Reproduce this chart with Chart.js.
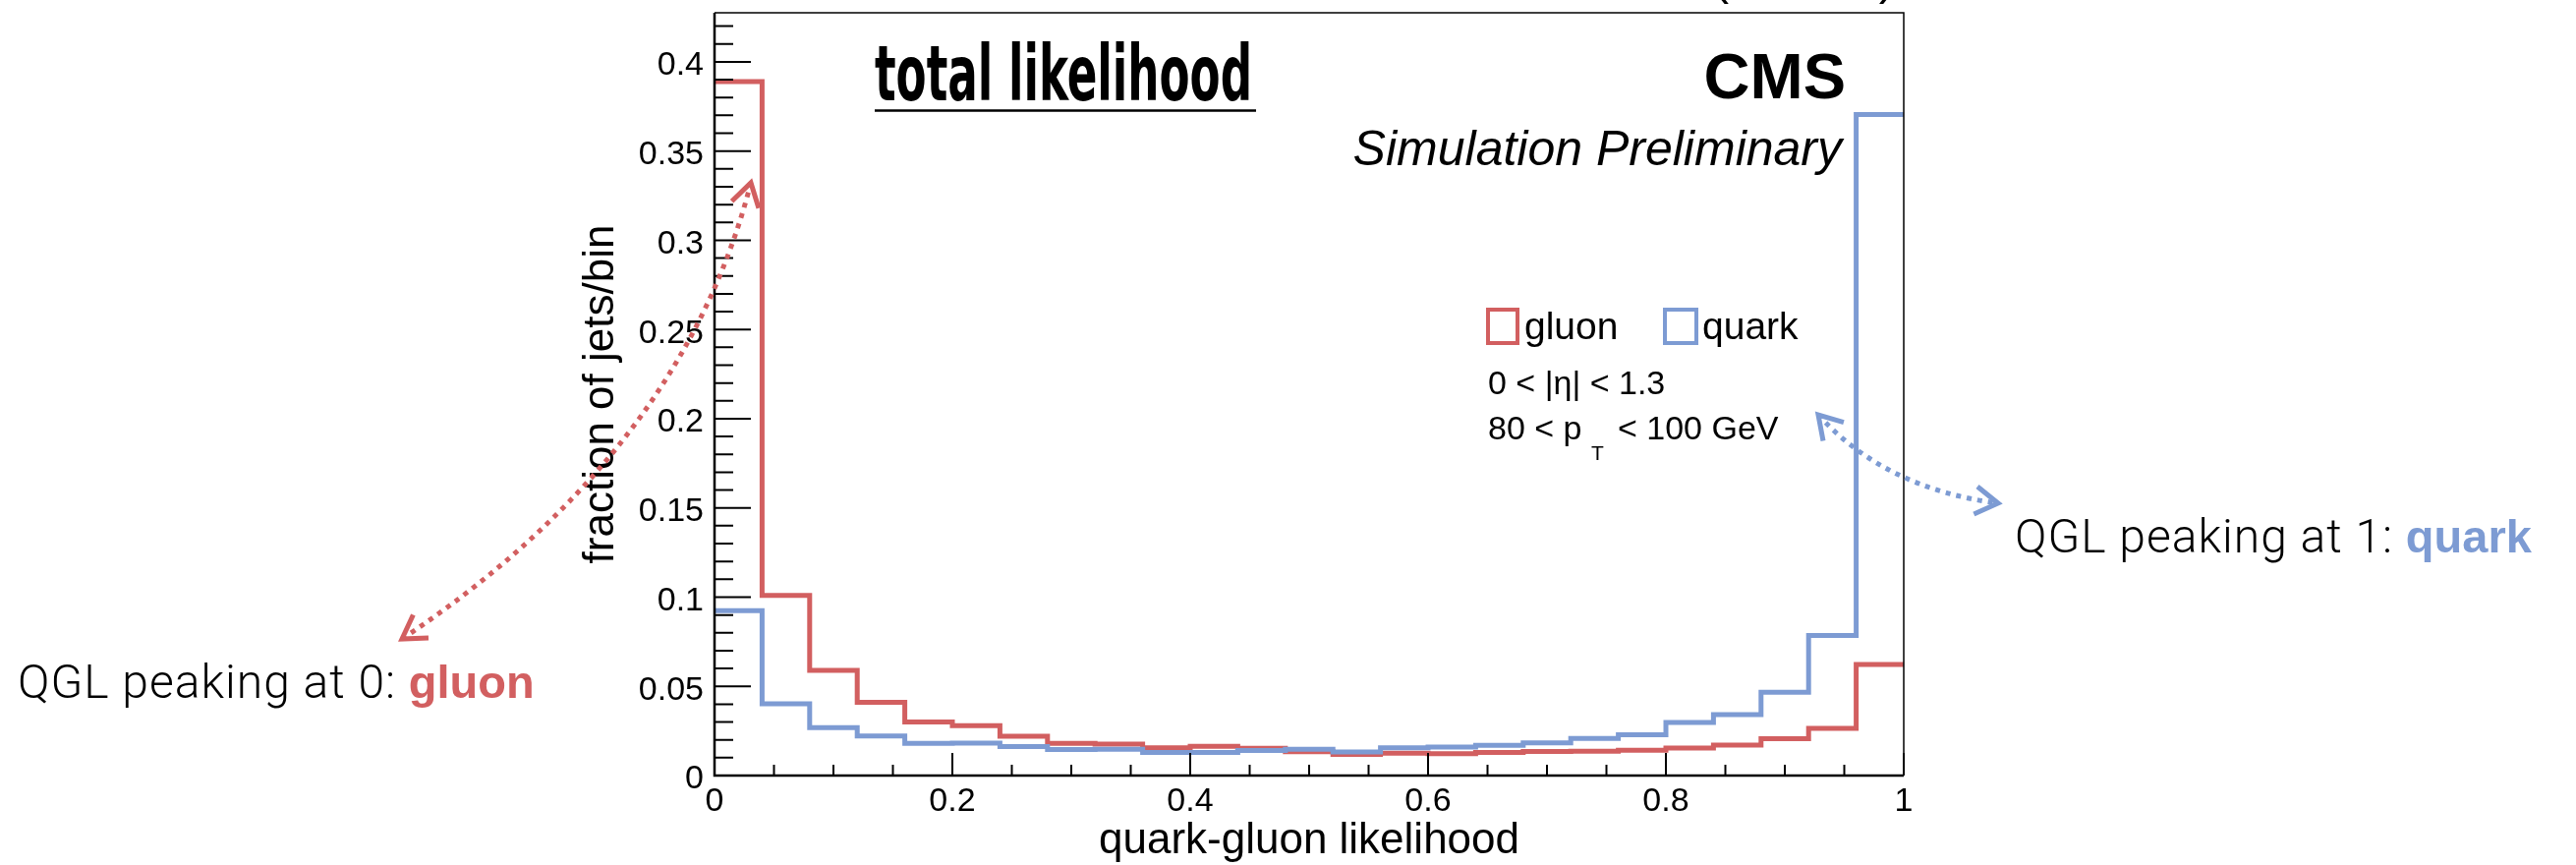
<!DOCTYPE html>
<html>
<head>
<meta charset="utf-8">
<script src="https://cdn.jsdelivr.net/npm/chart.js@4"></script>
<style>
  html, body { margin: 0; padding: 0; background: #fff; }
  #wrap { width: 2621px; height: 880px; position: relative; }
</style>
</head>
<body>
<div id="wrap"><canvas id="qglChart"></canvas></div>
<script>
// quark-gluon likelihood, 25 bins between 0 and 1
const binEdges = [0, 0.04, 0.08, 0.12, 0.16, 0.2, 0.24, 0.28, 0.32, 0.36, 0.4, 0.44, 0.48,
  0.52, 0.56, 0.6, 0.64, 0.68, 0.72, 0.76, 0.8, 0.84, 0.88, 0.92, 0.96, 1];
const gluon = [0.389, 0.101, 0.059, 0.041, 0.030, 0.028, 0.022, 0.018, 0.0176, 0.0155,
  0.0164, 0.0153, 0.0133, 0.0118, 0.0125, 0.0122, 0.0129, 0.0135, 0.0137, 0.0142,
  0.0154, 0.0171, 0.0206, 0.0265, 0.0623];
const quark = [0.0924, 0.0402, 0.0268, 0.0222, 0.018, 0.0182, 0.0162, 0.0146, 0.0147, 0.0129,
  0.013, 0.014, 0.0147, 0.0132, 0.0156, 0.016, 0.017, 0.0183, 0.0208, 0.0228,
  0.0298, 0.0342, 0.0467, 0.0785, 0.3705];
const yTickValues = [0, 0.05, 0.1, 0.15, 0.2, 0.25, 0.3, 0.35, 0.4];
const yTickLabels = ["0", "0.05", "0.1", "0.15", "0.2", "0.25", "0.3", "0.35", "0.4"];
const xTickValues = [0, 0.2, 0.4, 0.6, 0.8, 1];
const xTickLabels = ["0", "0.2", "0.4", "0.6", "0.8", "1"];

const RED = "#d25f60";
const BLUE = "#7d9bd3";
const SANS = "'Liberation Sans', Arial, Helvetica, sans-serif";
const LIGHT = "Roboto, 'Open Sans', sans-serif";

// histogram outline: a point on every lower edge, then the closing edge
function stepPoints(values) {
  const pts = values.map((v, i) => ({ x: binEdges[i], y: v }));
  pts.push({ x: binEdges[values.length], y: values[values.length - 1] });
  return pts;
}

function arrowHead(ctx, tipX, tipY, fromX, fromY, len) {
  const ang = Math.atan2(tipY - fromY, tipX - fromX);
  const spread = 0.55;
  ctx.beginPath();
  ctx.moveTo(tipX - len * Math.cos(ang - spread), tipY - len * Math.sin(ang - spread));
  ctx.lineTo(tipX, tipY);
  ctx.lineTo(tipX - len * Math.cos(ang + spread), tipY - len * Math.sin(ang + spread));
  ctx.stroke();
}

function dottedArrow(ctx, p0, c, p1, color) {
  ctx.save();
  ctx.strokeStyle = color;
  ctx.lineWidth = 5;
  ctx.setLineDash([5, 6]);
  ctx.beginPath();
  ctx.moveTo(p0[0], p0[1]);
  ctx.quadraticCurveTo(c[0], c[1], p1[0], p1[1]);
  ctx.stroke();
  ctx.setLineDash([]);
  ctx.lineJoin = "miter";
  arrowHead(ctx, p0[0], p0[1], c[0], c[1], 27);
  arrowHead(ctx, p1[0], p1[1], c[0], c[1], 27);
  ctx.restore();
}

function mixedText(ctx, x, y, parts) {
  let cx = x;
  parts.forEach(p => {
    ctx.font = p.font;
    ctx.letterSpacing = p.spacing || "0px";
    ctx.fillStyle = p.color;
    ctx.fillText(p.text, cx, y);
    cx += ctx.measureText(p.text).width;
  });
  ctx.letterSpacing = "0px";
}

const rootStyle = {
  id: "rootStyle",
  afterDraw(chart) {
    const ctx = chart.ctx;
    const xs = chart.scales.x, ys = chart.scales.y;
    const a = chart.chartArea;
    ctx.save();

    // frame
    ctx.strokeStyle = "#000";
    ctx.lineWidth = 1.5;
    ctx.beginPath();
    ctx.moveTo(a.left, a.top);
    ctx.lineTo(a.right, a.top);
    ctx.lineTo(a.right, a.bottom);
    ctx.stroke();
    ctx.lineWidth = 2.5;
    ctx.beginPath();
    ctx.moveTo(a.left, a.top);
    ctx.lineTo(a.left, a.bottom);
    ctx.lineTo(a.right, a.bottom);
    ctx.stroke();

    // ticks pointing inwards
    ctx.lineWidth = 2;
    ctx.beginPath();
    for (let i = 0; i <= 42; i++) {
      const py = ys.getPixelForValue(i / 100);
      ctx.moveTo(a.left, py);
      ctx.lineTo(a.left + (i % 5 === 0 ? 37 : 19), py);
    }
    for (let i = 0; i <= 20; i++) {
      const px = xs.getPixelForValue(i * 0.05);
      ctx.moveTo(px, a.bottom);
      ctx.lineTo(px, a.bottom - (i % 4 === 0 ? 23 : 11));
    }
    ctx.stroke();

    // tick labels
    ctx.fillStyle = "#000";
    ctx.font = "34px " + SANS;
    ctx.textAlign = "right";
    ctx.textBaseline = "middle";
    yTickValues.forEach((v, i) => {
      ctx.fillText(yTickLabels[i], a.left - 11, ys.getPixelForValue(v) + 4);
    });
    ctx.textAlign = "center";
    ctx.textBaseline = "alphabetic";
    xTickValues.forEach((v, i) => {
      ctx.fillText(xTickLabels[i], xs.getPixelForValue(v), a.bottom + 36);
    });

    // axis titles
    ctx.font = "44px " + SANS;
    ctx.fillText("quark-gluon likelihood", (a.left + a.right) / 2, 868);
    ctx.save();
    ctx.translate(624, (a.top + a.bottom) / 2);
    ctx.rotate(-Math.PI / 2);
    ctx.fillText("fraction of jets/bin", 0, 0);
    ctx.restore();

    // text cut off above the frame
    ctx.textAlign = "right";
    ctx.font = "49px " + SANS;
    ctx.fillText("(13 TeV)", 1928, -6);

    // CMS label
    ctx.font = "bold 65px " + SANS;
    ctx.fillText("CMS", 1878, 100);
    ctx.font = "italic 50px " + SANS;
    ctx.fillText("Simulation Preliminary", 1874, 168);

    // handwritten-style title, squeezed to its width
    ctx.textAlign = "left";
    ctx.font = "bold 78px 'Liberation Sans Narrow', 'DejaVu Sans Condensed', sans-serif";
    const tw = ctx.measureText("total likelihood").width;
    ctx.save();
    ctx.translate(890, 102);
    ctx.scale(384 / tw, 1);
    ctx.fillText("total likelihood", 0, 0);
    ctx.restore();
    ctx.lineWidth = 2.5;
    ctx.beginPath();
    ctx.moveTo(890, 112.5);
    ctx.lineTo(1278, 112.5);
    ctx.stroke();

    // legend
    ctx.lineWidth = 4;
    ctx.strokeStyle = RED;
    ctx.strokeRect(1514, 315, 30, 34);
    ctx.strokeStyle = BLUE;
    ctx.strokeRect(1694, 315, 32, 34);
    ctx.fillStyle = "#000";
    ctx.font = "39px " + SANS;
    ctx.fillText("gluon", 1551, 345);
    ctx.fillText("quark", 1732, 345);
    ctx.font = "34px " + SANS;
    ctx.fillText("0 < |\u03b7| < 1.3", 1514, 401);
    ctx.fillText("80 < p", 1514, 447);
    ctx.font = "21px " + SANS;
    ctx.fillText("T", 1619, 468);
    ctx.font = "34px " + SANS;
    ctx.fillText("< 100 GeV", 1646, 447);

    // annotations
    mixedText(ctx, 18, 710, [
      { text: "QGL peaking at 0: ", font: "300 48px " + LIGHT, color: "#000", spacing: "1px" },
      { text: "gluon", font: "bold 47px " + SANS, color: RED }
    ]);
    mixedText(ctx, 2050, 562, [
      { text: "QGL peaking at 1: ", font: "300 48px " + LIGHT, color: "#000", spacing: "1px" },
      { text: "quark", font: "bold 47px " + SANS, color: BLUE }
    ]);
    dottedArrow(ctx, [409, 650], [693, 462], [764, 186], RED);
    dottedArrow(ctx, [1850, 422], [1918, 497], [2033, 512], BLUE);

    ctx.restore();
  }
};

new Chart(document.getElementById("qglChart"), {
  type: "line",
  data: {
    datasets: [{
      label: "gluon",
      data: stepPoints(gluon),
      borderColor: RED,
      order: 1
    }, {
      label: "quark",
      data: stepPoints(quark),
      borderColor: BLUE,
      order: 0
    }]
  },
  options: {
    responsive: true,
    maintainAspectRatio: false,
    animation: false,
    devicePixelRatio: 1,
    layout: { padding: { left: 727, right: 684, top: 13, bottom: 91 } },
    elements: {
      line: { stepped: "before", borderWidth: 5, fill: false, borderJoinStyle: "miter", borderCapStyle: "butt" },
      point: { radius: 0 }
    },
    scales: {
      x: { type: "linear", min: 0, max: 1, display: false },
      y: { type: "linear", min: 0, max: 0.4275, display: false }
    },
    plugins: { legend: { display: false }, tooltip: { enabled: false } }
  },
  plugins: [rootStyle]
});
</script>
</body>
</html>
